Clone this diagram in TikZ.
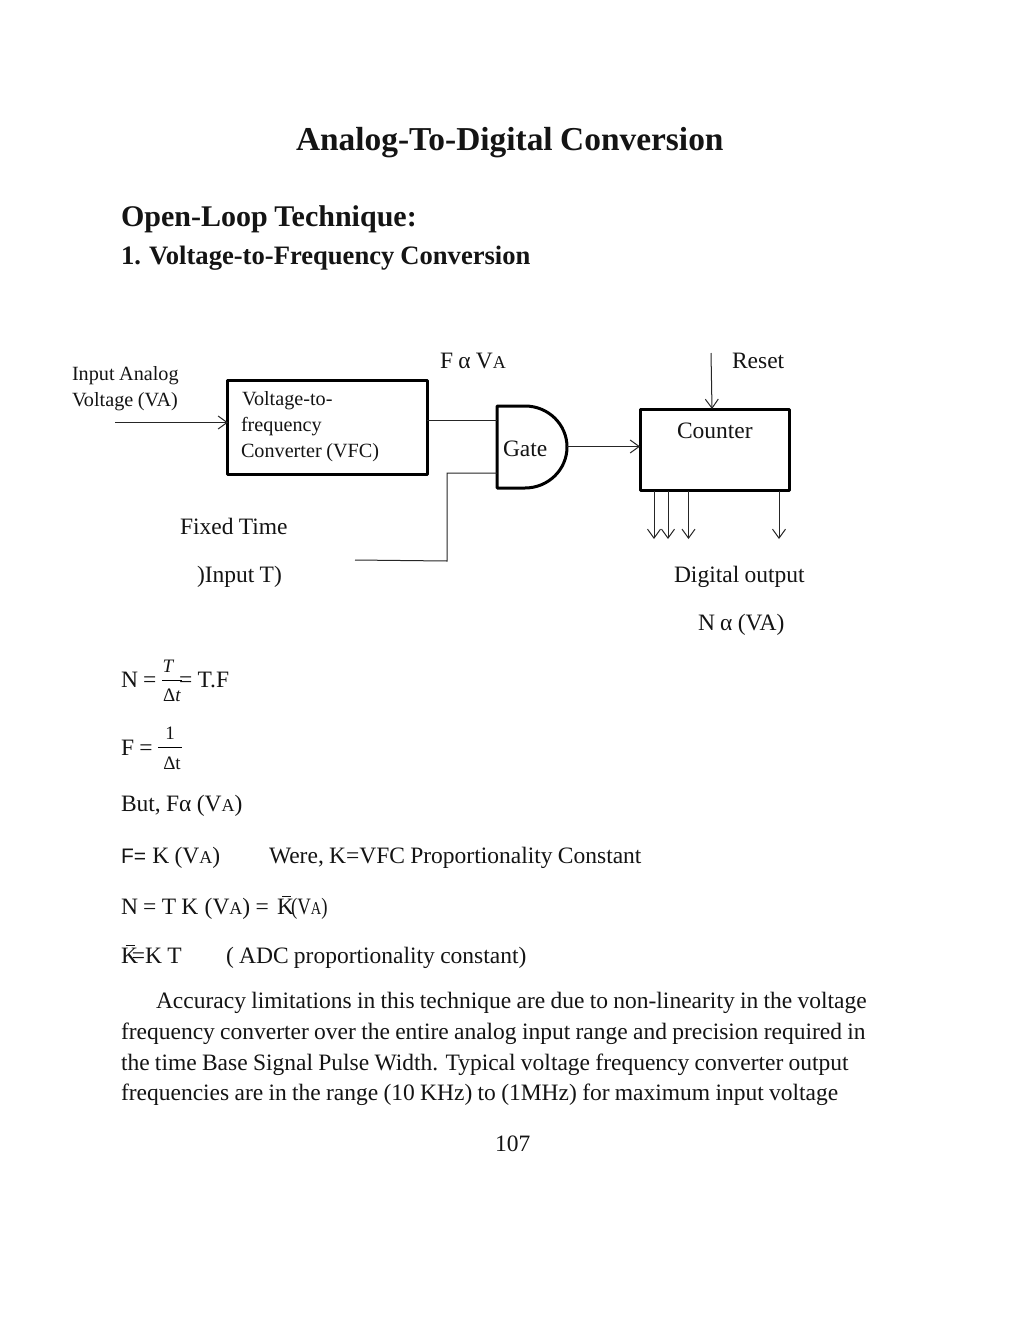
\documentclass[tikz,border=0pt]{standalone}
\usepackage{fontspec}
\setmainfont[WordSpace=0.9]{Liberation Serif}
\newfontfamily\sansf{Liberation Sans}
\usetikzlibrary{arrows.meta}
\newcommand{\fs}[1]{\fontsize{#1}{#1}\selectfont}
\newcommand{\smA}{{\fs{18}A}}
\newcommand{\Kbar}{K\llap{\raisebox{17pt}{\rule{9pt}{0.9pt}}\kern3pt}}
\tikzset{
  x=1pt,y=-1pt,
  txt/.style={anchor=base west,inner sep=0,outer sep=0,text=black!92,font=\fs{23.5}},
  small/.style={txt,font=\fs{20.2}},
  eqsm/.style={anchor=base,inner sep=0,outer sep=0,text=black!92,font=\fs{19}},
  blockbox/.style={draw=black,line width=3pt,inner sep=0,outer sep=0,line join=round},
  wire/.style={draw=black!85,line width=1pt},
  arrow/.style={wire,-{Straight Barb[length=9pt,width=13pt,line width=1pt]}},
  fracbar/.style={draw=black,line width=1pt},
}
\begin{document}
\begin{tikzpicture}
\useasboundingbox (0,0) rectangle (1024,1325);
\fill[white] (0,0) rectangle (1024,1325);
% headings
\node[txt,font=\bfseries\fs{33.4}] (title) at (296,150) {Analog-To-Digital Conversion};
\node[txt,font=\bfseries\fs{30}] (h1) at (121,226) {Open-Loop Technique:};
\node[txt,font=\bfseries\fs{26.6}] (h2) at (121,264) {1. Voltage-to-Frequency Conversion};
% blocks
\node[blockbox,minimum width=199.5pt,minimum height=94pt] (vfc) at (327.7,427) {};
\node[blockbox,minimum width=149pt,minimum height=81.5pt] (counter) at (714.5,449.8) {};
\node[inner sep=0,outer sep=0,minimum width=70pt,minimum height=82pt] (gate) at (532,447) {};
\draw[blockbox] (gate.north west) -- ++(28,0) arc[start angle=90,end angle=-90,x radius=42,y radius=-41] -- (gate.south west) -- cycle;
% block labels
\node[small] (vfc1) at (242,405) {Voltage-to-};
\node[small] (vfc2) at (241,431) {frequency};
\node[small] (vfc3) at (241,457) {Converter (VFC)};
\node[txt] (gatelbl) at (503,456) {Gate};
\node[txt] (counterlbl) at (677,438) {Counter};
% outer labels
\node[small] (in1) at (72,380) {Input Analog};
\node[small] (in2) at (72,406) {Voltage (VA)};
\node[txt] (fava) at (440,368) {F α V\smA};
\node[txt] (reset) at (732,368) {Reset};
\node[txt] (fixed) at (180,534) {Fixed Time};
\node[txt] (inputT) at (197,582) {)Input T)};
\node[txt] (digout) at (674,582) {Digital output};
\node[txt] (nava) at (698,630) {N α (VA)};
% free ends
\coordinate (inS) at (115,422.5);
\coordinate (inE) at (vfc.west |- inS);
\coordinate (fS) at (vfc.east |- 0,420.5);
\coordinate (fE) at (gate.west |- 0,420.5);
\coordinate (tS) at (355,560);
\coordinate (tC) at (447,561);
\coordinate (tU) at (447,473);
\coordinate (tE) at (gate.west |- tU);
\coordinate (gO) at (gate.east |- 0,446.5);
\coordinate (cI) at (counter.west |- gO);
\coordinate (rS) at (711,353);
\coordinate (rE) at (712,409);
% connectors
\draw[arrow] (inS) -- (inE);
\draw[wire] (fS) -- (fE);
\draw[wire] (tS) -- (tC) -- (tU) -- (tE);
\draw[arrow] (gO) -- (cI);
\draw[arrow] (rS) -- (rE);
\foreach \n/\xa in {a/654,b/668,c/688.5,d/779}{
  \coordinate (o\n S) at (\xa,491);
  \coordinate (o\n E) at (\xa,539);
  \draw[arrow] (o\n S) -- (o\n E);
}
% equations
\node[txt] (n1) at (121,687) {N =};
\node[eqsm,font=\itshape\fs{19}] (n1t) at (168,672) {T};
\node[eqsm] (n1d) at (172,701) {Δ\textit{t}};
\coordinate (n1bS) at (162,680.5);
\coordinate (n1bE) at (182,680.5);
\draw[fracbar] (n1bS) -- (n1bE);
\node[txt] (n1r) at (179,687) {= T.F};
\node[txt] (f1) at (121,755) {F =};
\node[eqsm] (f1t) at (170,739) {1};
\node[eqsm] (f1d) at (172,769) {Δt};
\coordinate (f1bS) at (158,747);
\coordinate (f1bE) at (182,747);
\draw[fracbar] (f1bS) -- (f1bE);
\node[txt] (but) at (121,811) {But, Fα (V\smA)};
\node[txt] (fk) at (121,863) {{\sansf\fs{21}F=}\kern1pt{} K (V\smA)};
\node[txt] (were) at (269,863) {Were, K=VFC Proportionality Constant};
\node[txt] (ntk) at (121,914) {N = T K\kern1pt{} (V\smA) =\kern3pt{} \Kbar\kern-3pt\scalebox{0.8}[1]{(V\smA)}};
\node[txt] (kbar) at (121,963) {\Kbar\kern-6pt=K T};
\node[txt] (adc) at (226,963) {( ADC proportionality constant)};
% paragraph
\node[txt] (p1) at (156,1008) {Accuracy limitations in this technique are due to non-linearity in the voltage};
\node[txt] (p2) at (121,1039) {frequency converter over the entire analog input range and precision required in};
\node[txt] (p3) at (121,1070) {the time Base Signal Pulse Width. Typical voltage frequency converter output};
\node[txt] (p4) at (121,1100) {frequencies are in the range (10 KHz) to (1MHz) for maximum input voltage};
\node[txt] (page) at (495,1151) {107};
\end{tikzpicture}
\end{document}
